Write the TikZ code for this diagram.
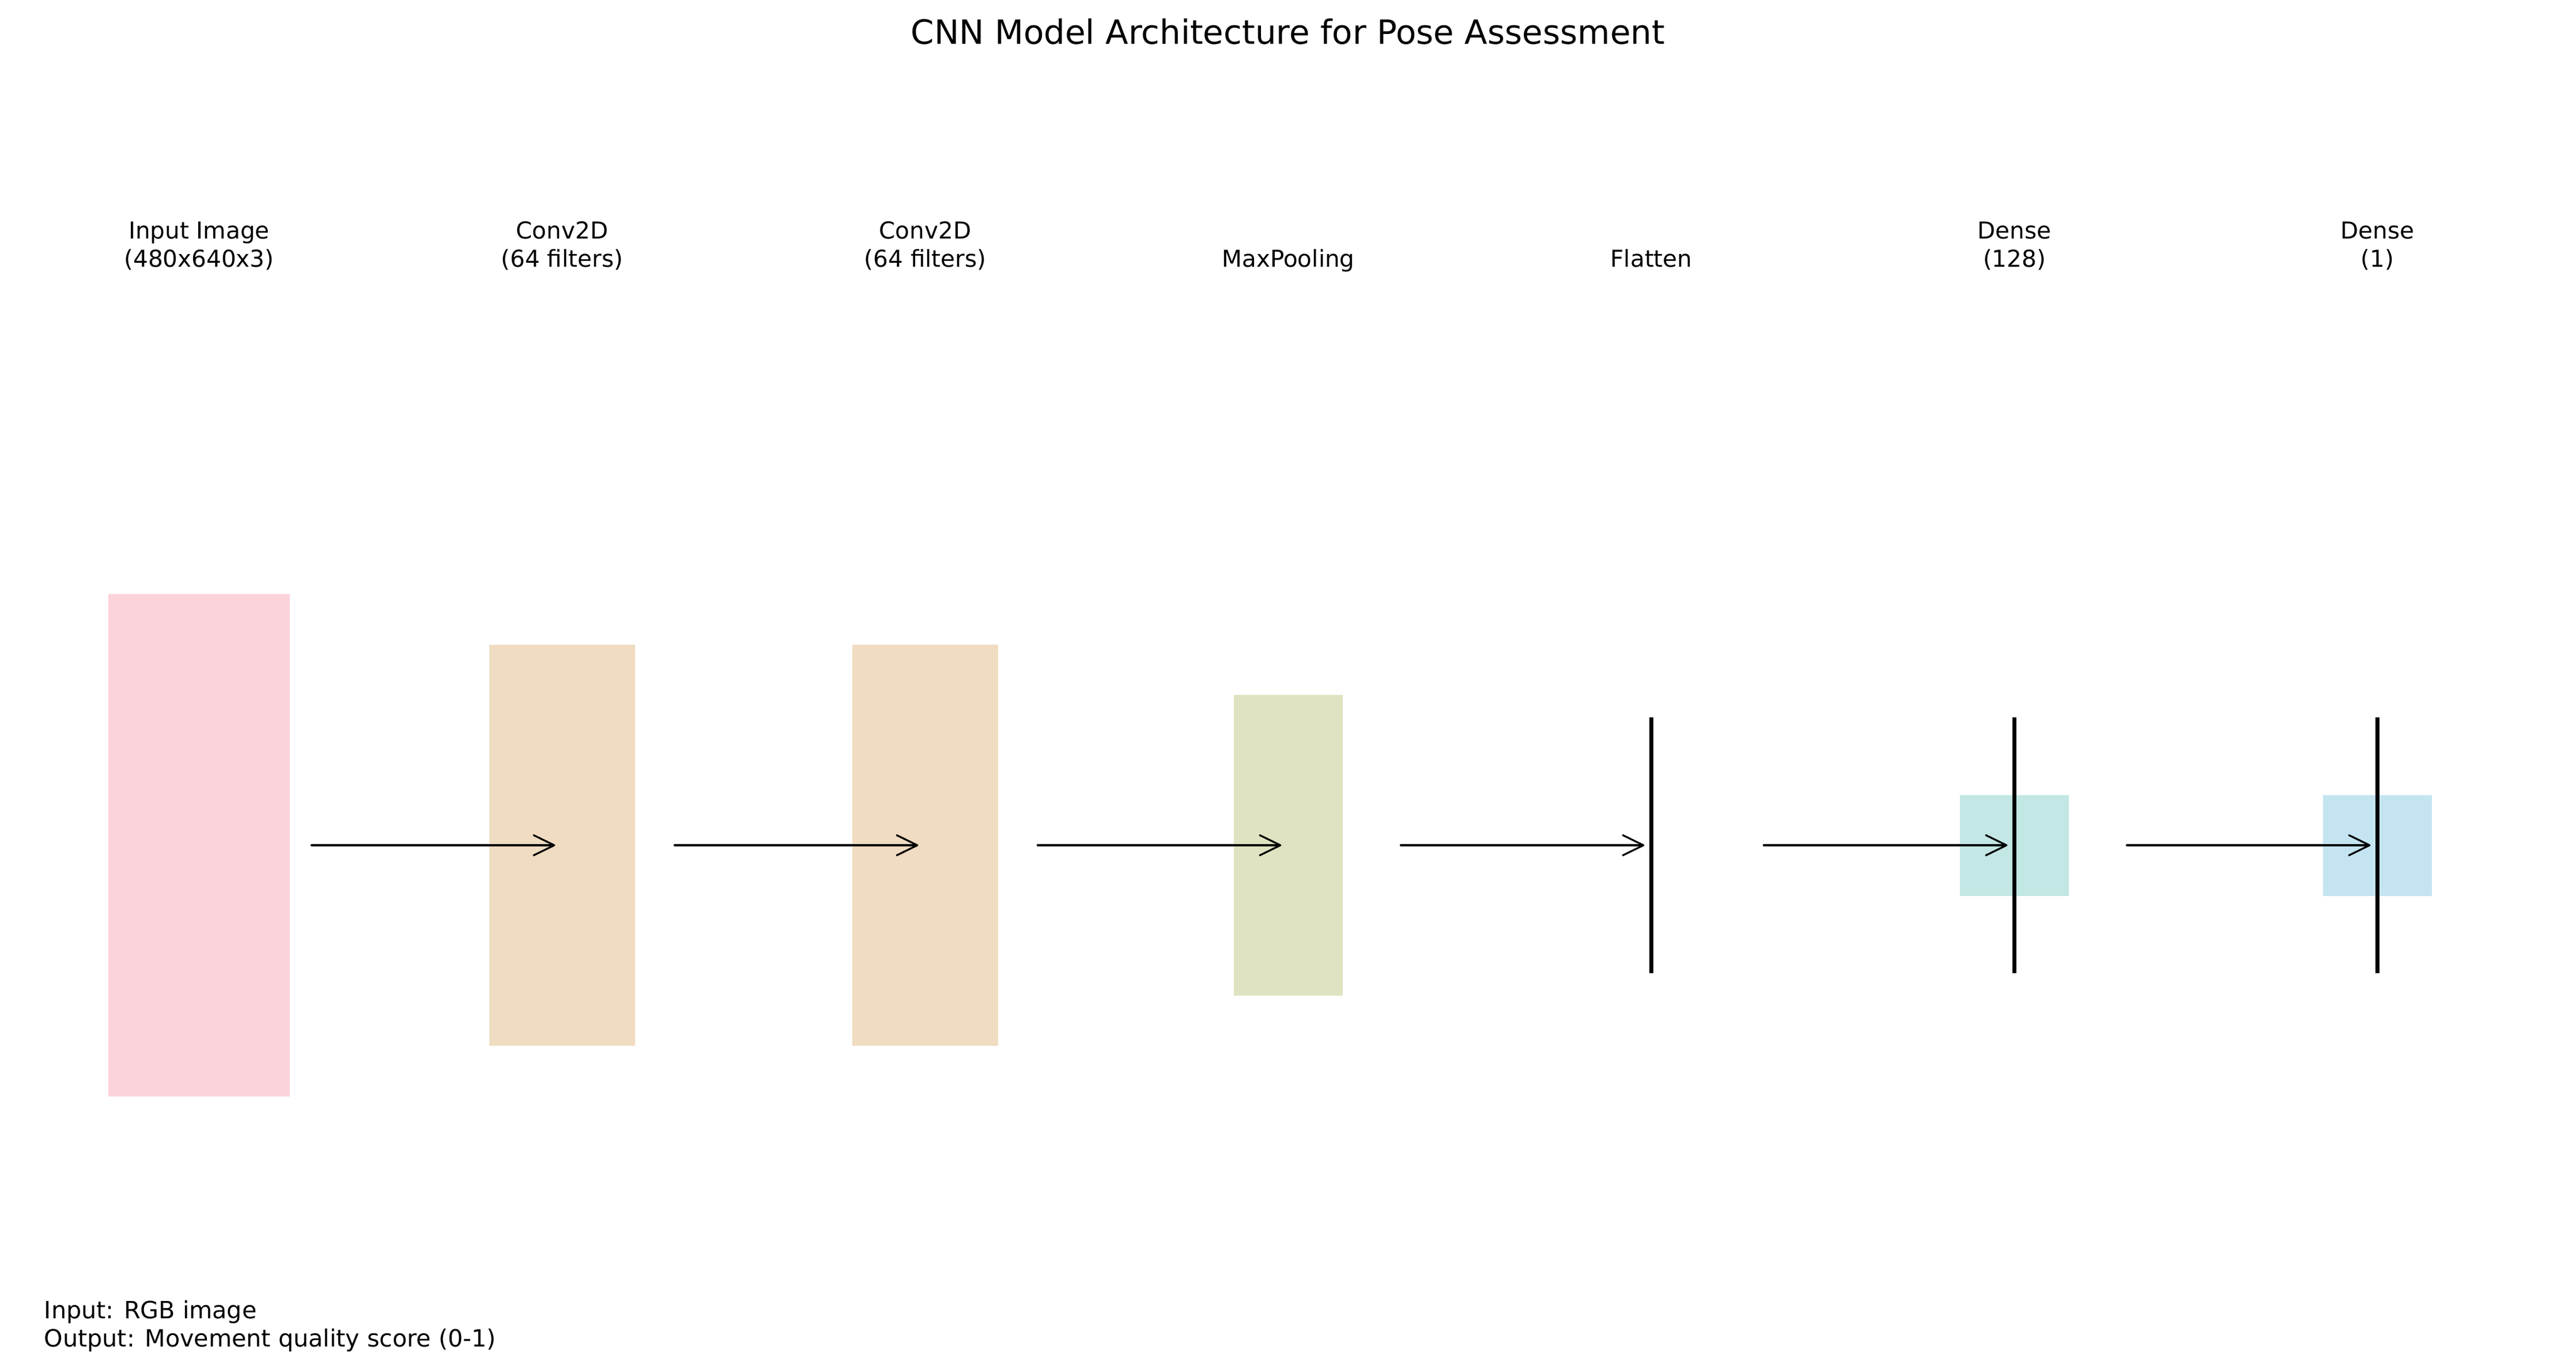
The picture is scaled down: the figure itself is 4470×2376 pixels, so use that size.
\documentclass[tikz,border=0pt]{standalone}
\usepackage{fontspec}
\setmainfont{DejaVu Sans}
\usetikzlibrary{arrows.meta}
\definecolor{inputfill}{RGB}{251,211,219}
\definecolor{convfill}{RGB}{240,220,193}
\definecolor{poolfill}{RGB}{223,227,193}
\definecolor{densefill}{RGB}{194,231,228}
\definecolor{outfill}{RGB}{196,228,241}
\begin{document}
\begin{tikzpicture}[x=0.24pt,y=-0.24pt,shorten >=2.9pt]
        \tikzstyle{layer}=[rectangle,inner sep=0pt,outer sep=0pt,minimum width=45.36pt,minimum height=42pt]
        \tikzstyle{bar}=[rectangle,fill=black,inner sep=0pt,outer sep=0pt,minimum width=1.8pt,minimum height=106.8pt]
        \tikzstyle{caption}=[font=\fontsize{9.72}{11.76}\selectfont,align=center,anchor=base,inner sep=0pt]
        \tikzstyle{link}=[draw=black,line width=0.77pt,line cap=round,-{Straight Barb[length=8.6pt,width=8.4pt,round]},shorten <=46.8pt]
        \useasboundingbox (0,0) rectangle (4470,2376);

        \node [font=\fontsize{13.9}{16.7}\selectfont,anchor=base,inner sep=0pt] (title) at (2235,77) {CNN Model Architecture for Pose Assessment};

        % layers
        \node [layer,fill=inputfill,minimum width=75.6pt,minimum height=209.28pt] (l0) at (345.5,1467) {};
        \node [layer,fill=convfill,minimum width=60.72pt,minimum height=167.28pt] (l1) at (975.5,1467) {};
        \node [layer,fill=convfill,minimum width=60.72pt,minimum height=167.28pt] (l2) at (1605.5,1467) {};
        \node [layer,fill=poolfill,minimum height=125.52pt] (l3) at (2235.5,1467) {};
        \node [bar] (l4) at (2865.5,1467) {};
        \node [layer,fill=densefill] (l5) at (3495.5,1467) {};
        \node [bar] (b5) at (3495.5,1467) {};
        \node [layer,fill=outfill] (l6) at (4125.5,1467) {};
        \node [bar] (b6) at (4125.5,1467) {};

        % captions
        \node [caption] (t0) at (345.5,464) {Input Image\\(480x640x3)};
        \node [caption] (t1) at (975.5,464) {Conv2D\\(64 filters)};
        \node [caption] (t2) at (1605.5,464) {Conv2D\\(64 filters)};
        \node [caption] (t3) at (2235.5,464) {MaxPooling};
        \node [caption] (t4) at (2865.5,464) {Flatten};
        \node [caption] (t5) at (3495.5,464) {Dense\\(128)};
        \node [caption] (t6) at (4125.5,464) {Dense\\(1)};

        \path (l0.center) edge[link] (l1.center);
        \path (l1.center) edge[link] (l2.center);
        \path (l2.center) edge[link] (l3.center);
        \path (l3.center) edge[link] (l4.center);
        \path (l4.center) edge[link] (l5.center);
        \path (l5.center) edge[link] (l6.center);

        \node [caption,font=\fontsize{9.9}{11.76}\selectfont,align=left,anchor=base west] (note) at (76,2337) {Input: RGB image\\Output: Movement quality score (0-1)};
\end{tikzpicture}
\end{document}
